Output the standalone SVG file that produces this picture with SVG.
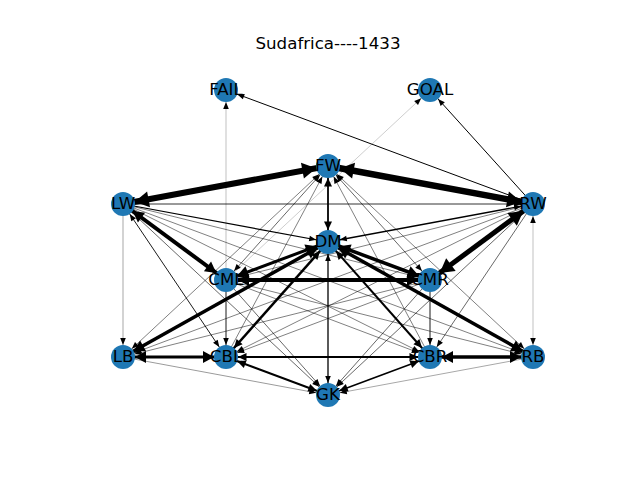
<svg xmlns="http://www.w3.org/2000/svg" width="640" height="480" viewBox="0 0 640 480">
<style>
.e{stroke:#000;fill:none}
.n{fill:#1f78b4}
.t{font-family:"DejaVu Sans","Liberation Sans",sans-serif;font-size:16.67px;fill:#000;text-anchor:middle}
</style>
<defs>
<marker id="h1" markerUnits="userSpaceOnUse" viewBox="-30 -10 60 20" markerWidth="60" markerHeight="20" refX="12" refY="0" orient="auto-start-reverse" overflow="visible"><path d="M-7,-2.8L0,0L-7,2.8z" fill="#000"/></marker>
<marker id="h2" markerUnits="userSpaceOnUse" viewBox="-30 -10 60 20" markerWidth="60" markerHeight="20" refX="12" refY="0" orient="auto-start-reverse" overflow="visible"><path d="M-8.5,-4L0,0L-8.5,4z" fill="#000"/></marker>
<marker id="h3" markerUnits="userSpaceOnUse" viewBox="-30 -10 60 20" markerWidth="60" markerHeight="20" refX="12" refY="0" orient="auto-start-reverse" overflow="visible"><path d="M-11,-6L0,0L-11,6z" fill="#000"/></marker>
<marker id="h4" markerUnits="userSpaceOnUse" viewBox="-30 -10 60 20" markerWidth="60" markerHeight="20" refX="12" refY="0" orient="auto-start-reverse" overflow="visible"><path d="M-14,-8L0,0L-14,8z" fill="#000"/></marker>
</defs>
<rect width="640" height="480" fill="#fff"/>
<text class="t" x="328" y="49">Sudafrica----1433</text>
<g id="edges">
<line class="e" stroke-width="0.25" x1="226" y1="280" x2="226" y2="90" marker-end="url(#h1)"/>
<line class="e" stroke-width="0.2" x1="226" y1="280" x2="430" y2="90" marker-end="url(#h1)"/>
<line class="e" stroke-width="0.35" x1="123" y1="204" x2="123" y2="357" marker-end="url(#h1)"/>
<line class="e" stroke-width="0.25" x1="533" y1="204" x2="533" y2="357" marker-start="url(#h1)" marker-end="url(#h1)"/>
<line class="e" stroke-width="0.4" x1="123" y1="357" x2="328" y2="395" marker-end="url(#h1)"/>
<line class="e" stroke-width="0.35" x1="533" y1="357" x2="328" y2="395" marker-end="url(#h1)"/>
<line class="e" stroke-width="0.5" x1="123" y1="204" x2="430" y2="280" marker-end="url(#h1)"/>
<line class="e" stroke-width="0.5" x1="123" y1="204" x2="430" y2="357" marker-end="url(#h1)"/>
<line class="e" stroke-width="0.5" x1="123" y1="204" x2="533" y2="357" marker-end="url(#h1)"/>
<line class="e" stroke-width="0.6" x1="123" y1="204" x2="328" y2="395" marker-end="url(#h1)"/>
<line class="e" stroke-width="0.5" x1="533" y1="204" x2="226" y2="280" marker-end="url(#h1)"/>
<line class="e" stroke-width="0.5" x1="533" y1="204" x2="226" y2="357" marker-end="url(#h1)"/>
<line class="e" stroke-width="0.5" x1="533" y1="204" x2="123" y2="357" marker-end="url(#h1)"/>
<line class="e" stroke-width="0.6" x1="533" y1="204" x2="328" y2="395" marker-end="url(#h1)"/>
<line class="e" stroke-width="0.6" x1="533" y1="204" x2="430" y2="357" marker-end="url(#h1)"/>
<line class="e" stroke-width="0.5" x1="123" y1="357" x2="328" y2="166" marker-start="url(#h1)" marker-end="url(#h1)"/>
<line class="e" stroke-width="0.5" x1="226" y1="357" x2="328" y2="166" marker-end="url(#h1)"/>
<line class="e" stroke-width="0.5" x1="430" y1="357" x2="328" y2="166" marker-end="url(#h1)"/>
<line class="e" stroke-width="0.5" x1="533" y1="357" x2="328" y2="166" marker-start="url(#h1)" marker-end="url(#h1)"/>
<line class="e" stroke-width="0.5" x1="226" y1="280" x2="430" y2="357" marker-end="url(#h1)"/>
<line class="e" stroke-width="0.5" x1="430" y1="280" x2="226" y2="357" marker-end="url(#h1)"/>
<line class="e" stroke-width="0.5" x1="226" y1="280" x2="533" y2="357" marker-end="url(#h1)"/>
<line class="e" stroke-width="0.5" x1="430" y1="280" x2="123" y2="357" marker-end="url(#h1)"/>
<line class="e" stroke-width="0.6" x1="226" y1="280" x2="328" y2="395" marker-end="url(#h1)"/>
<line class="e" stroke-width="0.6" x1="430" y1="280" x2="328" y2="395" marker-end="url(#h1)"/>
<line class="e" stroke-width="0.6" x1="328" y1="166" x2="226" y2="280" marker-start="url(#h1)" marker-end="url(#h1)"/>
<line class="e" stroke-width="0.6" x1="328" y1="166" x2="430" y2="280" marker-start="url(#h1)" marker-end="url(#h1)"/>
<line class="e" stroke-width="1" x1="533" y1="204" x2="226" y2="90" marker-end="url(#h1)"/>
<line class="e" stroke-width="1" x1="533" y1="204" x2="430" y2="90" marker-end="url(#h1)"/>
<line class="e" stroke-width="0.8" x1="123" y1="204" x2="533" y2="204" marker-end="url(#h1)"/>
<line class="e" stroke-width="1.2" x1="123" y1="204" x2="328" y2="242" marker-end="url(#h1)"/>
<line class="e" stroke-width="1.3" x1="533" y1="204" x2="328" y2="242" marker-start="url(#h1)" marker-end="url(#h1)"/>
<line class="e" stroke-width="0.9" x1="123" y1="204" x2="226" y2="357" marker-start="url(#h1)" marker-end="url(#h1)"/>
<line class="e" stroke-width="0.9" x1="226" y1="280" x2="226" y2="357" marker-end="url(#h1)"/>
<line class="e" stroke-width="0.9" x1="430" y1="280" x2="430" y2="357" marker-end="url(#h1)"/>
<line class="e" stroke-width="1.3" x1="328" y1="242" x2="328" y2="395" marker-start="url(#h1)" marker-end="url(#h1)"/>
<line class="e" stroke-width="1.8" x1="328" y1="166" x2="328" y2="242" marker-start="url(#h2)" marker-end="url(#h2)"/>
<line class="e" stroke-width="1.8" x1="226" y1="357" x2="430" y2="357" marker-start="url(#h2)" marker-end="url(#h2)"/>
<line class="e" stroke-width="1.6" x1="430" y1="357" x2="328" y2="395" marker-start="url(#h2)" marker-end="url(#h2)"/>
<line class="e" stroke-width="2" x1="226" y1="357" x2="328" y2="395" marker-start="url(#h2)" marker-end="url(#h2)"/>
<line class="e" stroke-width="2" x1="328" y1="242" x2="430" y2="357" marker-start="url(#h2)" marker-end="url(#h2)"/>
<line class="e" stroke-width="2.5" x1="328" y1="242" x2="226" y2="357" marker-start="url(#h2)" marker-end="url(#h2)"/>
<line class="e" stroke-width="3" x1="328" y1="242" x2="226" y2="280" marker-start="url(#h3)" marker-end="url(#h3)"/>
<line class="e" stroke-width="3.5" x1="328" y1="242" x2="430" y2="280" marker-start="url(#h3)" marker-end="url(#h3)"/>
<line class="e" stroke-width="3" x1="123" y1="357" x2="226" y2="357" marker-start="url(#h3)" marker-end="url(#h3)"/>
<line class="e" stroke-width="3.5" x1="430" y1="357" x2="533" y2="357" marker-start="url(#h3)" marker-end="url(#h3)"/>
<line class="e" stroke-width="3.5" x1="328" y1="242" x2="123" y2="357" marker-start="url(#h3)" marker-end="url(#h3)"/>
<line class="e" stroke-width="3.5" x1="328" y1="242" x2="533" y2="357" marker-start="url(#h3)" marker-end="url(#h3)"/>
<line class="e" stroke-width="4" x1="226" y1="280" x2="430" y2="280" marker-start="url(#h3)" marker-end="url(#h3)"/>
<line class="e" stroke-width="4" x1="123" y1="204" x2="226" y2="280" marker-start="url(#h3)" marker-end="url(#h3)"/>
<line class="e" stroke-width="5" x1="533" y1="204" x2="430" y2="280" marker-start="url(#h4)" marker-end="url(#h4)"/>
<line class="e" stroke-width="6" x1="123" y1="204" x2="328" y2="166" marker-start="url(#h4)" marker-end="url(#h4)"/>
<line class="e" stroke-width="6.5" x1="533" y1="204" x2="328" y2="166" marker-start="url(#h4)" marker-end="url(#h4)"/>
</g>
<g id="node-FAIL"><circle class="n" cx="226" cy="90" r="12"/><text class="t" x="226" y="95">FAIL</text></g>
<g id="node-GOAL"><circle class="n" cx="430" cy="90" r="12"/><text class="t" x="430" y="95">GOAL</text></g>
<g id="node-FW"><circle class="n" cx="328" cy="166" r="12"/><text class="t" x="328" y="171">FW</text></g>
<g id="node-LW"><circle class="n" cx="123" cy="204" r="12"/><text class="t" x="123" y="209">LW</text></g>
<g id="node-RW"><circle class="n" cx="533" cy="204" r="12"/><text class="t" x="533" y="209">RW</text></g>
<g id="node-DM"><circle class="n" cx="328" cy="242" r="12"/><text class="t" x="328" y="247">DM</text></g>
<g id="node-CML"><circle class="n" cx="226" cy="280" r="12"/><text class="t" x="226" y="285">CML</text></g>
<g id="node-CMR"><circle class="n" cx="430" cy="280" r="12"/><text class="t" x="430" y="285">CMR</text></g>
<g id="node-LB"><circle class="n" cx="123" cy="357" r="12"/><text class="t" x="123" y="362">LB</text></g>
<g id="node-CBL"><circle class="n" cx="226" cy="357" r="12"/><text class="t" x="226" y="362">CBL</text></g>
<g id="node-CBR"><circle class="n" cx="430" cy="357" r="12"/><text class="t" x="430" y="362">CBR</text></g>
<g id="node-RB"><circle class="n" cx="533" cy="357" r="12"/><text class="t" x="533" y="362">RB</text></g>
<g id="node-GK"><circle class="n" cx="328" cy="395" r="12"/><text class="t" x="328" y="400">GK</text></g>
</svg>
